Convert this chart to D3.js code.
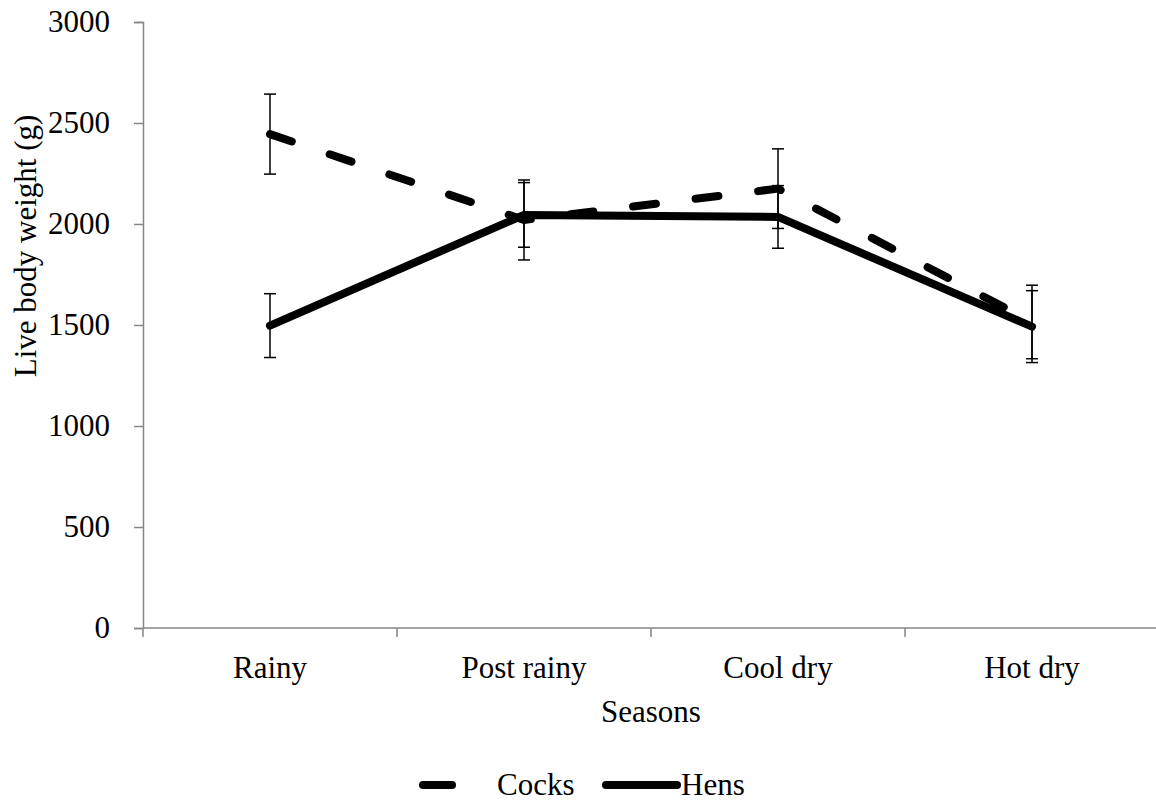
<!DOCTYPE html>
<html lang="en">
<head>
<meta charset="utf-8">
<title>Live body weight by season</title>
<script src="https://d3js.org/d3.v7.min.js"></script>
<style>
  body { margin: 0; background: #fff; }
  text { font-family: "Liberation Serif", "Times New Roman", serif; fill: #000; }
</style>
</head>
<body>
<script>
// data
var seasons = ["Rainy", "Post rainy", "Cool dry", "Hot dry"];
var cocks = [2445, 2020, 2175, 1515];
var cocksErr = [198, 198, 197, 182];
var hens = [1497, 2045, 2035, 1492];
var hensErr = [158, 160, 155, 178];
var yTicks = [0, 500, 1000, 1500, 2000, 2500, 3000];

var w = 1156, h = 805;
var pLeft = 143, pRight = 1159, pTop = 22, pBottom = 628;
var fs = 31;

var svg = d3.select("body").append("svg").attr("width", w).attr("height", h);

var x = d3.scaleBand().domain(seasons).range([pLeft, pRight]);
var y = d3.scaleLinear().domain([0, 3000]).range([pBottom, pTop]);

// y axis
var yAxis = d3.axisLeft(y).tickValues(yTicks).tickFormat(d3.format("d")).tickSize(9).tickPadding(24);
var gy = svg.append("g").attr("transform", "translate(" + pLeft + ",0)").call(yAxis);
gy.select(".domain").attr("stroke", "#868686").attr("stroke-width", 1.5);
gy.selectAll(".tick line").attr("stroke", "#868686").attr("stroke-width", 1.5);
gy.selectAll(".tick text").attr("font-size", fs).attr("font-family", "Liberation Serif").attr("fill", "#000");

// x axis with ticks between categories
svg.append("line").attr("x1", pLeft).attr("x2", pRight).attr("y1", pBottom).attr("y2", pBottom)
  .attr("stroke", "#868686").attr("stroke-width", 1.5);
var bounds = seasons.map(function (s) { return x(s); }).concat([pRight]);
svg.selectAll(".xt").data(bounds).enter().append("line")
  .attr("x1", function (d) { return d; }).attr("x2", function (d) { return d; })
  .attr("y1", pBottom).attr("y2", pBottom + 9)
  .attr("stroke", "#868686").attr("stroke-width", 1.5);
svg.selectAll(".xl").data(seasons).enter().append("text")
  .attr("x", function (d) { return x(d) + x.bandwidth() / 2; })
  .attr("y", 678).attr("text-anchor", "middle").attr("font-size", fs)
  .text(function (d) { return d; });

// axis titles
svg.append("text").attr("x", 651).attr("y", 722).attr("text-anchor", "middle")
  .attr("font-size", fs).text("Seasons");
svg.append("text").attr("transform", "translate(36,246) rotate(-90)")
  .attr("text-anchor", "middle").attr("font-size", fs).text("Live body weight (g)");

var cx = function (i) { return x(seasons[i]) + x.bandwidth() / 2; };

// error bars
function errBars(vals, errs) {
  var g = svg.append("g").attr("stroke", "#000").attr("stroke-width", 1.5);
  vals.forEach(function (v, i) {
    var xi = cx(i);
    g.append("line").attr("x1", xi).attr("x2", xi).attr("y1", y(v - errs[i])).attr("y2", y(v + errs[i]));
    [v - errs[i], v + errs[i]].forEach(function (e) {
      g.append("line").attr("x1", xi - 6).attr("x2", xi + 6).attr("y1", y(e)).attr("y2", y(e));
    });
  });
}
errBars(cocks, cocksErr);
errBars(hens, hensErr);

var line = d3.line().x(function (d, i) { return cx(i); }).y(function (d) { return y(d); });

svg.append("path").datum(cocks).attr("d", line).attr("fill", "none")
  .attr("stroke", "#000").attr("stroke-width", 8).attr("stroke-linecap", "round")
  .attr("stroke-linejoin", "round").attr("stroke-dasharray", "23,40");
svg.append("path").datum(hens).attr("d", line).attr("fill", "none")
  .attr("stroke", "#000").attr("stroke-width", 8).attr("stroke-linecap", "round")
  .attr("stroke-linejoin", "round");

// legend
var ly = 785;
svg.append("line").attr("x1", 423).attr("x2", 452).attr("y1", ly).attr("y2", ly)
  .attr("stroke", "#000").attr("stroke-width", 8).attr("stroke-linecap", "round");
svg.append("text").attr("x", 497).attr("y", ly + 10).attr("font-size", fs).text("Cocks");
svg.append("line").attr("x1", 606).attr("x2", 677).attr("y1", ly).attr("y2", ly)
  .attr("stroke", "#000").attr("stroke-width", 8).attr("stroke-linecap", "round");
svg.append("text").attr("x", 681).attr("y", ly + 10).attr("font-size", fs).text("Hens");
</script>
</body>
</html>
